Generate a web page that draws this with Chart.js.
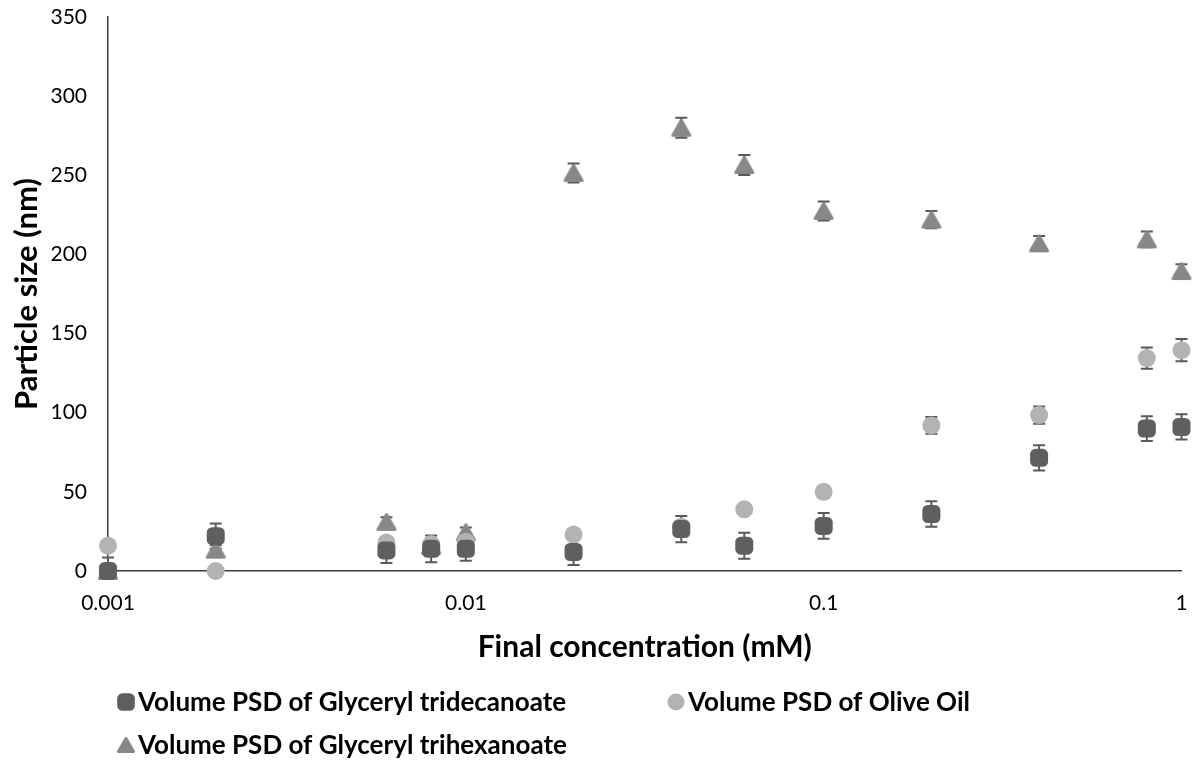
<!DOCTYPE html>
<html>
<head>
<meta charset="utf-8">
<script src="https://cdn.jsdelivr.net/npm/chart.js@4"></script>
<style>
  body { margin: 0; background: #fff; }
  #chart { display: block; }
</style>
</head>
<body>
<canvas id="chart" width="1192" height="762"></canvas>
<script>
// final concentration (mM)
const concentrations = [0.001, 0.002, 0.006, 0.008, 0.01, 0.02, 0.04, 0.06, 0.1, 0.2, 0.4, 0.8, 1];

// particle size (nm) and error (+/-)
const tridecanoate = [0, 22, 13, 14, 14, 12, 26.5, 16, 28.5, 36, 71.5, 90, 91];
const tridecanoateErr = [8.5, 8, 8, 8.5, 7.6, 8.2, 8.3, 8.2, 8.2, 8, 8, 7.8, 8];

const oliveOil = [16, 0, 18, 17, 18.5, 23, 28, 39, 50, 92, 98.5, 134.5, 139.5];
const oliveOilErr = [3, 3, 3, 3, 3, 3, 3, 3, 3, 5.3, 5.5, 6.7, 7];

const trihexanoate = [0, 13.5, 31, 16, 24.5, 251.5, 280, 256.5, 227.5, 222, 207, 209.5, 189.5];
const trihexanoateErr = [3, 3, 3, 3, 3, 6, 6.3, 6.3, 6, 5.5, 4.6, 5, 4.3];

const seriesNames = [
    'Volume PSD of Glyceryl tridecanoate',
    'Volume PSD of Olive Oil',
    'Volume PSD of Glyceryl trihexanoate'
];

const xTicks = [0.001, 0.01, 0.1, 1];
const xTickLabels = ['0.001', '0.01', '0.1', '1'];
const yTicks = [0, 50, 100, 150, 200, 250, 300, 350];

const FONT = 'Lato';
const ERR_COLOR = '#5a5a5a';

function points(values, errors) {
    return concentrations.map((c, i) => ({ x: c, y: values[i], err: errors[i] }));
}

// Excel-like triangle: rounded corners, centred on its bounding box
function triangleMarker(w, h, color) {
    const c = document.createElement('canvas');
    c.width = w + 2;
    c.height = h + 2;
    const g = c.getContext('2d');
    g.fillStyle = color;
    g.strokeStyle = color;
    g.lineJoin = 'round';
    g.lineWidth = 3;
    g.beginPath();
    g.moveTo(c.width / 2, 2.5);
    g.lineTo(c.width - 2.5, c.height - 2.5);
    g.lineTo(2.5, c.height - 2.5);
    g.closePath();
    g.fill();
    g.stroke();
    return c;
}

const triangleBig = triangleMarker(20, 18, '#888888');
const triangleSmall = triangleMarker(18, 16, '#888888');

// error bars are drawn under the markers, like Excel does
const errorBars = {
    id: 'errorBars',
    beforeDatasetsDraw(chart) {
        const { ctx, scales: { x, y } } = chart;
        ctx.save();
        ctx.strokeStyle = ERR_COLOR;
        ctx.lineWidth = 2;
        chart.data.datasets.forEach((ds) => {
            ds.data.forEach((p) => {
                const px = x.getPixelForValue(p.x);
                const top = y.getPixelForValue(p.y + p.err);
                const bottom = Math.min(y.getPixelForValue(p.y - p.err), y.bottom);
                ctx.beginPath();
                ctx.moveTo(px, top);
                ctx.lineTo(px, bottom);
                ctx.moveTo(px - 6, top);
                ctx.lineTo(px + 6, top);
                if (p.y - p.err >= 0) {
                    ctx.moveTo(px - 6, bottom);
                    ctx.lineTo(px + 6, bottom);
                }
                ctx.stroke();
            });
        });
        ctx.restore();
    }
};

// legend laid out in two columns like the original
const sideLegend = {
    id: 'sideLegend',
    afterDraw(chart) {
        const ctx = chart.ctx;
        const slots = [[117, 702], [667, 702], [117, 745]];
        const styles = ['rectRounded', 'circle', triangleSmall];
        const sizes = [10.3, 8.5, 9];
        ctx.save();
        ctx.font = 'bold 26px ' + FONT;
        ctx.textBaseline = 'middle';
        chart.data.datasets.forEach((ds, i) => {
            const [lx, ly] = slots[i];
            ctx.fillStyle = ds.backgroundColor;
            Chart.helpers.drawPoint(ctx, {
                pointStyle: styles[i],
                radius: sizes[i],
                borderWidth: 0
            }, lx + 9, ly);
            ctx.fillStyle = '#000';
            ctx.fillText(ds.label, lx + 21, ly + 1);
        });
        ctx.restore();
    }
};

const chart = new Chart(document.getElementById('chart'), {
    type: 'scatter',
    data: {
        datasets: [
            {
                label: seriesNames[0],
                data: points(tridecanoate, tridecanoateErr),
                pointStyle: 'rectRounded',
                radius: 10.5,
                backgroundColor: '#5f5f5f',
                borderWidth: 0,
                clip: false
            },
            {
                label: seriesNames[1],
                data: points(oliveOil, oliveOilErr),
                pointStyle: 'circle',
                radius: 9,
                backgroundColor: '#b3b3b3',
                borderWidth: 0,
                clip: false
            },
            {
                label: seriesNames[2],
                data: points(trihexanoate, trihexanoateErr),
                pointStyle: triangleBig,
                radius: 10,
                backgroundColor: '#888888',
                borderWidth: 0,
                clip: false
            }
        ]
    },
    options: {
        responsive: false,
        animation: false,
        events: [],
        layout: { padding: { top: 17, right: 9, left: 0, bottom: 97 } },
        plugins: {
            legend: { display: false },
            tooltip: { enabled: false }
        },
        scales: {
            x: {
                type: 'logarithmic',
                min: 0.001,
                max: 1,
                afterBuildTicks: (scale) => { scale.ticks = xTicks.map(v => ({ value: v })); },
                afterFit: (scale) => { scale.height = 94; },
                ticks: {
                    color: '#000',
                    padding: 0,
                    font: { family: FONT, size: 21 },
                    maxRotation: 0,
                    callback: (value) => xTickLabels[xTicks.indexOf(value)]
                },
                // grid hidden; tickLength only spaces the labels off the axis
                grid: { display: false, drawTicks: true, tickLength: 20 },
                border: { display: true, color: '#3a3a3a', width: 1.5 },
                title: {
                    display: true,
                    text: 'Final concentration (mM)',
                    color: '#000',
                    font: { family: FONT, size: 30, weight: 'bold' },
                    padding: { top: 0, bottom: 0 }
                }
            },
            y: {
                type: 'linear',
                min: 0,
                max: 350,
                afterBuildTicks: (scale) => { scale.ticks = yTicks.map(v => ({ value: v })); },
                afterFit: (scale) => { scale.width = 108; },
                ticks: {
                    color: '#000',
                    padding: 0,
                    font: { family: FONT, size: 21 }
                },
                grid: { display: false, drawTicks: true, tickLength: 21 },
                border: { display: true, color: '#3a3a3a', width: 1.5 },
                title: {
                    display: true,
                    text: 'Particle size (nm)',
                    color: '#000',
                    font: { family: FONT, size: 31, weight: 'bold' },
                    padding: { top: 8, bottom: 0 }
                }
            }
        }
    },
    plugins: [errorBars, sideLegend]
});
</script>
</body>
</html>
